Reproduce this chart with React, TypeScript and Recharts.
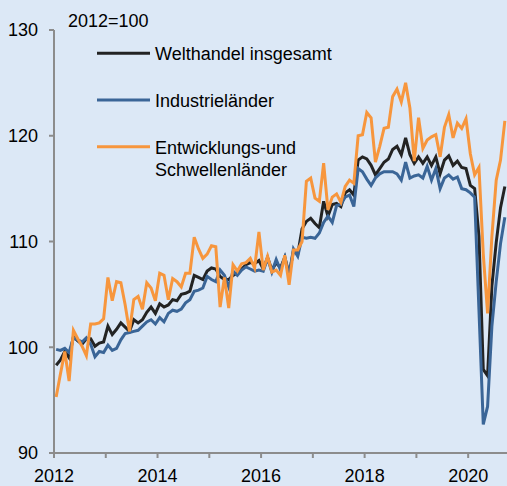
import { LineChart, Line, XAxis, YAxis } from "recharts";

// Monatswerte Jan 2012 - Sep 2020, Index 2012=100
const startYear = 2012;

const welthandel = [
  98.3, 98.8, 99.6, 99.0, 101.0, 100.6, 100.3, 100.8, 100.8, 100.1, 100.4, 100.5,
  102.0, 101.2, 101.7, 102.3, 101.9, 101.5, 102.6, 102.3, 102.6, 103.3, 103.8, 103.2,
  104.1, 103.8, 104.0, 104.5, 104.4, 105.0, 105.1, 105.3, 106.8, 106.6, 106.4, 107.2,
  107.5, 107.4, 106.7, 106.4, 106.4, 106.8, 107.0, 107.4, 107.8, 108.0, 107.9, 108.2,
  107.4, 108.5, 107.3, 108.0, 107.5, 108.5, 106.9, 109.1, 108.8, 111.2, 111.9, 112.2,
  111.7, 111.3, 113.8, 112.4, 113.5, 113.6, 113.3, 114.6, 114.9, 114.4, 117.7, 118.0,
  117.8, 117.2, 116.3, 116.9, 117.5, 117.8, 118.7, 119.0, 118.2, 119.8, 118.2, 117.4,
  118.0, 117.4, 118.0, 117.2, 118.0, 116.4, 117.7, 118.1, 117.2, 117.6, 117.0, 116.9,
  115.3, 115.0, 110.5, 97.9, 97.3, 105.8, 109.9, 113.2, 115.2,
];

const industrie = [
  99.8, 99.7, 99.9, 99.5, 100.9, 100.7, 100.5, 100.9, 100.3, 99.1, 99.6, 99.5,
  100.2, 99.7, 99.9, 100.7, 101.3, 101.4, 101.5, 101.6, 102.0, 102.4, 102.6, 102.2,
  102.8, 102.4, 103.2, 103.5, 103.4, 103.6, 104.2, 104.5, 105.3, 105.4, 105.6, 106.7,
  106.4, 106.2, 107.3, 106.8, 105.7, 107.2, 106.8, 107.3, 107.6, 107.4, 107.2, 107.3,
  107.2, 108.4, 107.1, 108.3, 107.3, 108.5, 106.8, 109.3, 108.6, 110.4, 110.3, 110.4,
  110.3, 110.8, 111.8, 112.4, 111.8, 113.4, 113.5, 114.2, 114.4, 113.3, 116.9, 116.6,
  115.9, 115.3, 116.0, 116.4, 116.6, 116.6, 116.6, 116.4, 115.8, 117.5, 116.0, 116.2,
  116.3, 116.0, 117.1, 115.8, 116.9, 115.0, 116.0, 116.3, 115.9, 116.1, 115.0, 114.9,
  114.6, 114.2, 103.5, 92.7, 94.4, 102.0, 106.2, 109.8, 112.3,
];

const entwicklung = [
  95.3, 97.5, 99.6, 96.8, 101.6, 100.8, 100.1, 99.2, 102.2, 102.2, 102.3, 102.7,
  106.6, 104.4, 106.2, 106.1, 104.0, 101.5, 104.5, 104.8, 103.6, 106.1, 105.6, 104.4,
  107.0, 106.8, 104.5, 106.5, 106.2, 105.7, 107.0, 107.0, 110.4, 109.3, 108.4, 108.8,
  109.6, 109.5, 103.8, 106.6, 103.7, 107.8, 107.2, 107.9, 108.0, 108.4, 107.5, 110.9,
  107.3, 108.6, 107.1, 107.3, 106.8, 108.7, 105.9, 109.2, 109.2, 110.0, 115.7, 116.0,
  114.1, 113.8, 117.4, 113.0, 114.2, 114.5, 113.7, 115.2, 115.8, 115.5, 120.0, 120.1,
  122.2, 121.7, 117.5, 119.0, 120.7, 120.8, 123.7, 124.4, 123.2, 125.0, 122.6, 117.6,
  121.7, 118.8, 119.6, 119.9, 120.1, 118.0, 120.8, 122.0, 119.8, 121.2, 120.7, 121.6,
  118.3, 116.3, 117.0, 108.8, 103.2, 110.5, 115.8, 117.7, 121.4,
];

const yearTicks = [2012, 2013, 2014, 2015, 2016, 2017, 2018, 2019, 2020];
const valueTicks = [90, 100, 110, 120, 130];

const seriesNames = ["Welthandel insgesamt", "Industrieländer", "Entwicklungs-und", "Schwellenländer"];

const data = welthandel.map((v, i) => ({
  t: startYear + (i + 0.5) / 12,
  welthandel: v,
  industrie: industrie[i],
  entwicklung: entwicklung[i],
}));

const FONT = "'Liberation Sans', Arial, sans-serif";
const BG = "#dce8f6";
const AXIS = "#8c8c8c";
const BLACK = "#232323";
const BLUE = "#3a6597";
const ORANGE = "#f7963d";

export default function App() {
  return (
    <div style={{ position: "fixed", left: 0, top: 0, width: 507, height: 486, background: BG, fontFamily: FONT }}>
      <LineChart width={507} height={486} data={data} margin={{ top: 30, right: 0, bottom: 0, left: 0 }}>
        <XAxis
          dataKey="t"
          type="number"
          domain={[2012, 2020.75]}
          ticks={yearTicks}
          tickFormatter={(y: number) => (y % 2 === 0 ? String(y) : "")}
          height={33}
          tickSize={5}
          tickMargin={11}
          stroke={AXIS}
          strokeWidth={2}
          tick={{ fill: "#000", fontSize: 18, fontFamily: FONT }}
          allowDataOverflow
        />
        <YAxis
          type="number"
          domain={[90, 130]}
          ticks={valueTicks}
          width={54}
          tickSize={5}
          tickMargin={11}
          stroke={AXIS}
          strokeWidth={2}
          tick={{ fill: "#000", fontSize: 18, fontFamily: FONT }}
        />
        <Line type="linear" dataKey="welthandel" stroke={BLACK} strokeWidth={3} dot={false} isAnimationActive={false} />
        <Line type="linear" dataKey="industrie" stroke={BLUE} strokeWidth={3} dot={false} isAnimationActive={false} />
        <Line type="linear" dataKey="entwicklung" stroke={ORANGE} strokeWidth={3} dot={false} isAnimationActive={false} />
      </LineChart>
      <svg width={507} height={486} style={{ position: "absolute", left: 0, top: 0, pointerEvents: "none" }}>
        <g fontFamily={FONT} fontSize={18} fill="#000">
          <text x={68} y={26.5}>2012=100</text>
          <line x1={97} x2={150} y1={53.3} y2={53.3} stroke={BLACK} strokeWidth={3} />
          <text x={155} y={60}>{seriesNames[0]}</text>
          <line x1={97} x2={150} y1={100} y2={100} stroke={BLUE} strokeWidth={3} />
          <text x={155} y={107}>{seriesNames[1]}</text>
          <line x1={97} x2={150} y1={146.7} y2={146.7} stroke={ORANGE} strokeWidth={3} />
          <text x={155} y={154}>{seriesNames[2]}</text>
          <text x={155} y={175.7}>{seriesNames[3]}</text>
        </g>
      </svg>
    </div>
  );
}
